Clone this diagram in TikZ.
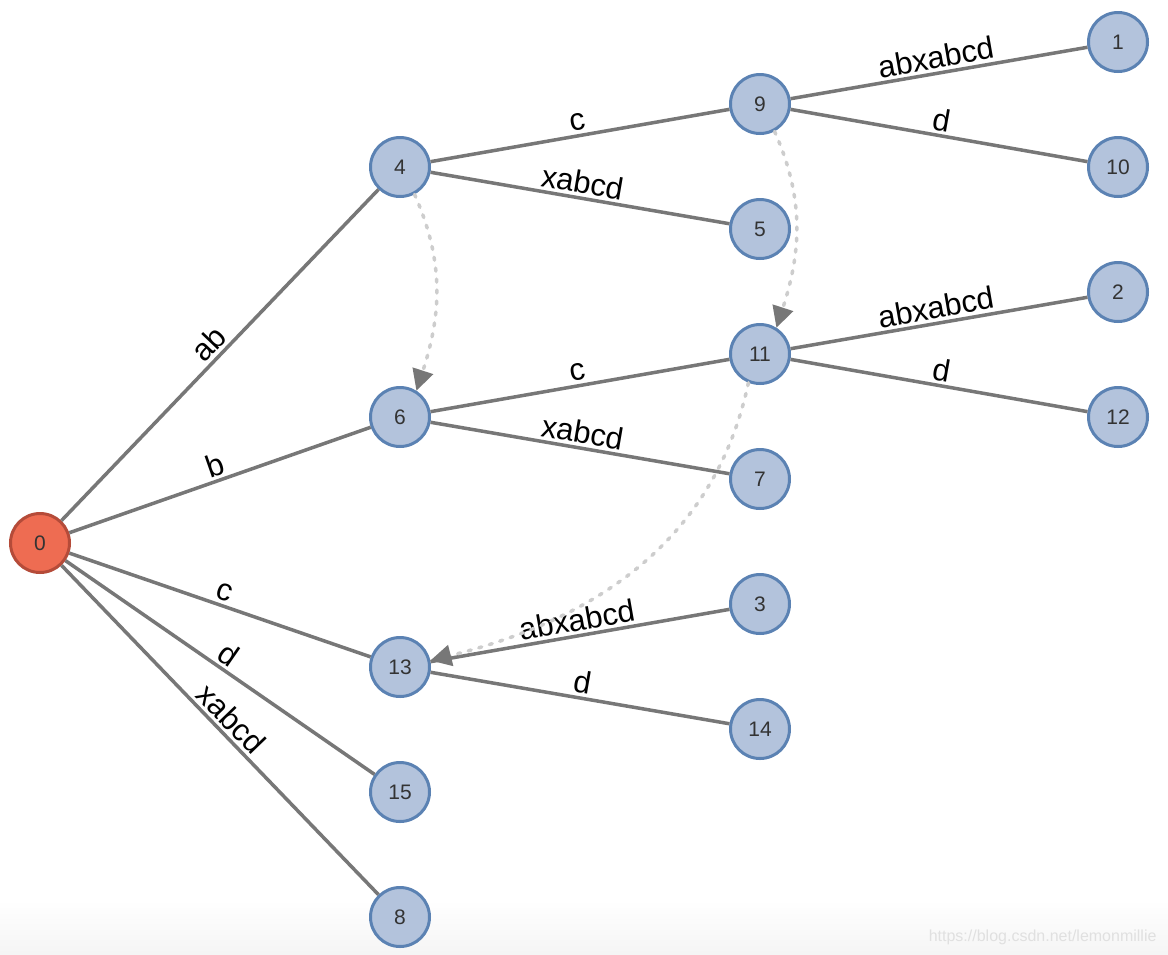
\documentclass[tikz,border=0pt]{standalone}
\usepackage{fontspec}
\setmainfont{Liberation Sans}
\usetikzlibrary{arrows.meta}
\definecolor{edgegray}{HTML}{777777}
\definecolor{nodefill}{HTML}{B3C3DC}
\definecolor{nodeline}{HTML}{5B82B3}
\definecolor{rootfill}{HTML}{EE6C52}
\definecolor{rootline}{HTML}{B54B39}
\definecolor{dotgray}{HTML}{CDCDCD}
\definecolor{numtext}{HTML}{333333}
\tikzset{
  state/.style={circle, draw=nodeline, fill=nodefill, line width=3pt, minimum size=59pt, inner sep=0pt,
    text=numtext, font=\fontsize{21}{21}\selectfont},
  rootstate/.style={state, draw=rootline, fill=rootfill},
  edge/.style={draw=edgegray, line width=3.5pt},
  lbl/.style={sloped, above, inner sep=3pt, font=\fontsize{31}{31}\selectfont, text=black},
  link/.style={draw=dotgray, line width=3.5pt, line cap=round, dash pattern=on 3pt off 8pt,
    -{Triangle[length=21pt,width=21pt,fill=edgegray,color=edgegray]}}
}
\begin{document}
\begin{tikzpicture}[x=1pt,y=-1pt]
\useasboundingbox (0,0) rectangle (1168,954);
\fill[white] (0,0) rectangle (1168,954);
\shade[top color=white, bottom color=black!4] (0,900) rectangle (1168,954);

\node[rootstate] (n0) at (40,543) {0};
\node[state] (n4) at (400,167) {4};
\node[state] (n6) at (400,417) {6};
\node[state] (n13) at (400,667) {13};
\node[state] (n15) at (400,792) {15};
\node[state] (n8) at (400,917) {8};
\node[state] (n9) at (760,104) {9};
\node[state] (n5) at (760,229) {5};
\node[state] (n11) at (760,354) {11};
\node[state] (n7) at (760,479) {7};
\node[state] (n3) at (760,604) {3};
\node[state] (n14) at (760,729) {14};
\node[state] (n1) at (1118,42) {1};
\node[state] (n10) at (1118,167) {10};
\node[state] (n2) at (1118,292) {2};
\node[state] (n12) at (1118,417) {12};

\path[edge] (n0) -- node[lbl] {ab} (n4);
\path[edge] (n0) -- node[lbl] {b} (n6);
\path[edge] (n0) -- node[lbl] {c} (n13);
\path[edge] (n0) -- node[lbl] {d} (n15);
\path[edge] (n0) -- node[lbl] {xabcd} (n8);
\path[edge] (n4) -- node[lbl] {c} (n9);
\path[edge] (n4) -- node[lbl] {xabcd} (n5);
\path[edge] (n6) -- node[lbl] {c} (n11);
\path[edge] (n6) -- node[lbl] {xabcd} (n7);
\path[edge] (n13) -- node[lbl] {abxabcd} (n3);
\path[edge] (n13) -- node[lbl] {d} (n14);
\path[edge] (n9) -- node[lbl] {abxabcd} (n1);
\path[edge] (n9) -- node[lbl] {d} (n10);
\path[edge] (n11) -- node[lbl] {abxabcd} (n2);
\path[edge] (n11) -- node[lbl] {d} (n12);

\draw[link] (n4.-62) to[out=-66,in=72] (n6.58);
\draw[link] (n9.-62) to[out=-66,in=72] (n11.58);
\draw[link] (n11.-112) to[out=-102,in=14] (n13.12);

\node[text=black!12, font=\fontsize{16}{16}\selectfont, anchor=east] (wm) at (1160,937) {https://blog.csdn.net/lemonmillie};
\end{tikzpicture}
\end{document}
